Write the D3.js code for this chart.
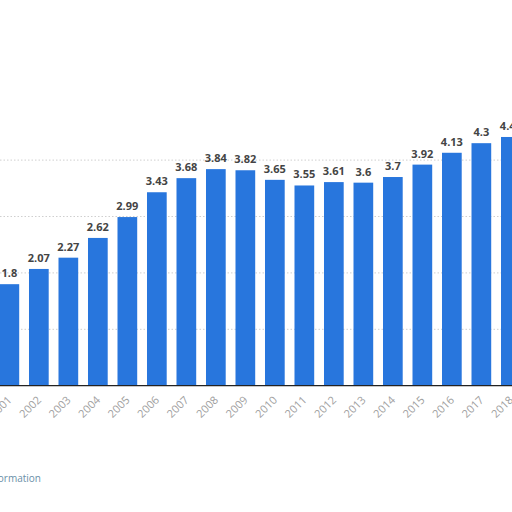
<!DOCTYPE html>
<html>
<head>
<meta charset="utf-8">
<script src="https://cdn.jsdelivr.net/npm/d3@7"></script>
<style>
  html, body { margin: 0; padding: 0; background: #fff; }
  svg { display: block; }
</style>
</head>
<body>
<svg id="chart" width="512" height="512"></svg>
<script>
const years = ["2001","2002","2003","2004","2005","2006","2007","2008","2009","2010","2011","2012","2013","2014","2015","2016","2017","2018"];
const values = [1.8, 2.07, 2.27, 2.62, 2.99, 3.43, 3.68, 3.84, 3.82, 3.65, 3.55, 3.61, 3.6, 3.7, 3.92, 4.13, 4.3, 4.41];
const gridTicks = [1, 2, 3, 4];

const svg = d3.select("#chart");
const baseY = 385.7;

const x = d3.scaleBand()
  .domain(years)
  .range([-10.3, 530.5])
  .padding(0.332);

const y = d3.scaleLinear()
  .domain([0, 4.5])
  .range([baseY, baseY - 4.5 * 56.4]);

// gridlines
svg.append("g")
  .selectAll("line")
  .data(gridTicks)
  .join("line")
  .attr("x1", 0).attr("x2", 512)
  .attr("y1", d => y(d)).attr("y2", d => y(d))
  .attr("stroke", "#cfcfcf")
  .attr("stroke-width", 1)
  .attr("stroke-dasharray", "1.5,2");

// bars
svg.append("g")
  .selectAll("rect")
  .data(values)
  .join("rect")
  .attr("x", (d, i) => x(years[i]))
  .attr("width", x.bandwidth())
  .attr("y", d => y(d))
  .attr("height", d => y(0) - y(d))
  .attr("fill", "#2876dd");

// value labels
svg.append("g")
  .selectAll("text")
  .data(values)
  .join("text")
  .attr("x", (d, i) => x(years[i]) + x.bandwidth() / 2)
  .attr("y", d => y(d) - 7)
  .attr("text-anchor", "middle")
  .attr("font-family", "'Open Sans', Roboto, sans-serif")
  .attr("font-size", 11)
  .attr("font-weight", "bold")
  .attr("fill", "#444")
  .text(d => String(d));

// x axis
const xAxis = d3.axisBottom(x).tickSize(0).tickPadding(0);
const gx = svg.append("g")
  .attr("transform", `translate(0,${baseY})`)
  .call(xAxis);
gx.select(".domain").remove();
gx.append("line")
  .attr("x1", 0).attr("x2", 512)
  .attr("y1", 0).attr("y2", 0)
  .attr("stroke", "#222").attr("stroke-width", 1.3);
gx.selectAll(".tick text")
  .attr("font-family", "'Open Sans', Roboto, sans-serif")
  .attr("font-size", 11)
  .attr("fill", "#a0a0a0")
  .attr("text-anchor", "end")
  .attr("dy", 0)
  .attr("transform", "translate(3,15) rotate(-45)");

// footer link
svg.append("text")
  .attr("x", 41)
  .attr("y", 482)
  .attr("text-anchor", "end")
  .attr("font-family", "'Open Sans', sans-serif")
  .attr("font-size", 10)
  .attr("fill", "#6a8fa8")
  .text("Additional Information");
</script>
</body>
</html>
